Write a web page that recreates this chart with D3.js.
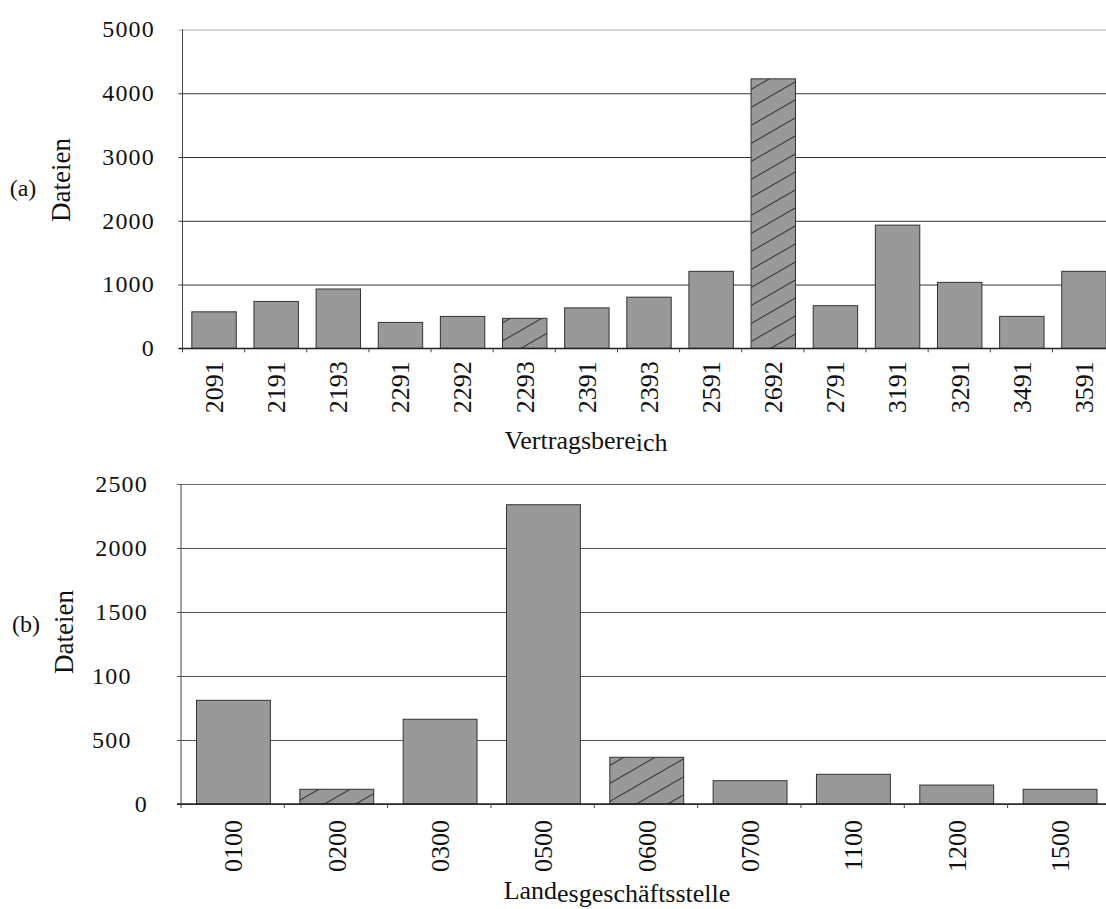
<!DOCTYPE html>
<html>
<head>
<meta charset="utf-8">
<script src="https://cdn.jsdelivr.net/npm/d3@7"></script>
<style>
  html, body { margin: 0; padding: 0; background: #fff; }
  svg { display: block; }
  text { font-family: "Liberation Serif", "Times New Roman", serif; fill: #111; }
</style>
</head>
<body>
<svg id="chart" width="1106" height="909"></svg>
<script>
// ---- data: chart (a) ----
const catsA = ["2091","2191","2193","2291","2292","2293","2391","2393","2591","2692","2791","3191","3291","3491","3591"];
const valsA = [572, 735, 930, 406, 500, 470, 634, 802, 1207, 4226, 668, 1932, 1034, 501, 1207];
const hatchedA = ["2293", "2692"];
const ticksA = [0, 1000, 2000, 3000, 4000, 5000];
const tickLabelsA = ["0", "1000", "2000", "3000", "4000", "5000"];

// ---- data: chart (b) ----
const catsB = ["0100","0200","0300","0500","0600","0700","1100","1200","1500"];
const valsB = [810, 115, 662, 2338, 365, 182, 232, 148, 115];
const hatchedB = ["0200", "0600"];
const ticksB = [0, 500, 1000, 1500, 2000, 2500];
const tickLabelsB = ["0", "500", "100", "1500", "2000", "2500"];

const svg = d3.select("#chart");
const defs = svg.append("defs");
const pat = defs.append("pattern")
  .attr("id", "hatch")
  .attr("patternUnits", "userSpaceOnUse")
  .attr("width", 12).attr("height", 15.6)
  .attr("patternTransform", "rotate(-30)");
pat.append("rect").attr("width", 12).attr("height", 15.6).attr("fill", "#999999");
pat.append("line").attr("x1", 0).attr("x2", 12).attr("y1", 0.5).attr("y2", 0.5)
  .attr("stroke", "#333").attr("stroke-width", 1.1);

function drawChart(cfg) {
  const g = svg.append("g");
  const x = d3.scaleBand().domain(cfg.cats).range(cfg.xRange)
    .paddingInner(0.285).paddingOuter(0.15);
  const y = d3.scaleLinear().domain([0, cfg.max]).range(cfg.yRange);

  // gridlines + y axis ticks
  const yAxis = d3.axisLeft(y)
    .tickValues(cfg.ticks)
    .tickSize(-(cfg.xRange[1] - cfg.xRange[0]) - 4)
    .tickSizeOuter(0)
    .tickPadding(0)
    .tickFormat(() => "");
  const ya = g.append("g")
    .attr("transform", `translate(${cfg.xRange[0]},0)`)
    .call(yAxis);
  ya.select(".domain").remove();
  ya.selectAll(".tick line")
    .attr("transform", "translate(-4,0)")
    .attr("stroke", (d, i) => d === cfg.max ? cfg.topGrid : cfg.grid)
    .attr("stroke-width", 1);

  // y tick labels
  g.selectAll(".ylab").data(cfg.ticks).enter().append("text")
    .attr("class", "ylab")
    .attr("x", (d, i) => cfg.tickLabels[i].length === 3 ? cfg.labLeft : cfg.labRight)
    .attr("y", d => y(d))
    .attr("dy", "0.33em")
    .attr("text-anchor", (d, i) => cfg.tickLabels[i].length === 3 ? "start" : "end")
    .attr("font-size", 24)
    .attr("letter-spacing", 1.2)
    .text((d, i) => cfg.tickLabels[i]);

  // bars
  g.selectAll(".bar").data(cfg.cats).enter().append("rect")
    .attr("class", "bar")
    .attr("x", d => x(d))
    .attr("width", x.bandwidth())
    .attr("y", (d, i) => y(cfg.vals[i]))
    .attr("height", (d, i) => y(0) - y(cfg.vals[i]))
    .attr("fill", d => cfg.hatched.includes(d) ? "url(#hatch)" : "#999999")
    .attr("stroke", "#333")
    .attr("stroke-width", 1);

  // y axis line
  g.append("line")
    .attr("x1", cfg.xRange[0]).attr("x2", cfg.xRange[0])
    .attr("y1", y(cfg.max)).attr("y2", y(0))
    .attr("stroke", "#444").attr("stroke-width", 1);

  // x axis baseline
  g.append("line")
    .attr("x1", cfg.xRange[0] - 4).attr("x2", cfg.xRange[1])
    .attr("y1", y(0)).attr("y2", y(0))
    .attr("stroke", "#222").attr("stroke-width", 1.3);

  // boundary ticks between categories
  const bounds = cfg.cats.map(c => x(c) - x.step() * x.paddingOuter());
  g.selectAll(".btick").data(bounds).enter().append("line")
    .attr("x1", d => d).attr("x2", d => d)
    .attr("y1", y(0)).attr("y2", y(0) + 4)
    .attr("stroke", "#444").attr("stroke-width", 1);

  // x tick labels (rotated)
  g.selectAll(".xlab").data(cfg.cats).enter().append("text")
    .attr("class", "xlab")
    .attr("transform", d => `translate(${x(d) + x.bandwidth() / 2},${y(0) + cfg.xLabGap}) rotate(-90)`)
    .attr("dy", "0.34em")
    .attr("text-anchor", "end")
    .attr("font-size", 26)
    .text(d => d);

  // x axis title (with baseline shift as in original)
  const xt = g.append("text")
    .attr("x", cfg.xTitleX).attr("y", cfg.xTitleY)
    .attr("text-anchor", "middle")
    .attr("font-size", 26);
  xt.append("tspan").text(cfg.xTitle[0]);
  xt.append("tspan").attr("dy", cfg.xTitleShift).text(cfg.xTitle[1]);

  // y axis title
  g.append("text")
    .attr("transform", `translate(${cfg.yTitleX},${cfg.yTitleY}) rotate(-90)`)
    .attr("text-anchor", "middle")
    .attr("font-size", 27)
    .text("Dateien");

  // panel label
  g.append("text")
    .attr("x", cfg.panelX).attr("y", cfg.panelY)
    .attr("text-anchor", "middle")
    .attr("font-size", 24)
    .text(cfg.panel);
}

drawChart({
  cats: catsA, vals: valsA, hatched: hatchedA, ticks: ticksA, tickLabels: tickLabelsA,
  max: 5000, xRange: [182.5, 1115.5], yRange: [348.3, 29.5],
  grid: "#333", topGrid: "#aaa",
  labRight: 155, labLeft: 100, xLabGap: 13,
  xTitle: ["Vertragsbere", "ich"], xTitleShift: 2, xTitleX: 586, xTitleY: 449,
  yTitleX: 70, yTitleY: 180, panel: "(a)", panelX: 23, panelY: 196
});

drawChart({
  cats: catsB, vals: valsB, hatched: hatchedB, ticks: ticksB, tickLabels: tickLabelsB,
  max: 2500, xRange: [181, 1112.5], yRange: [804, 484],
  grid: "#555", topGrid: "#666",
  labRight: 148, labLeft: 92, xLabGap: 16,
  xTitle: ["Land", "esgeschäftsstelle"], xTitleShift: 3, xTitleX: 617, xTitleY: 899,
  yTitleX: 73, yTitleY: 632, panel: "(b)", panelX: 26, panelY: 632
});
</script>
</body>
</html>
